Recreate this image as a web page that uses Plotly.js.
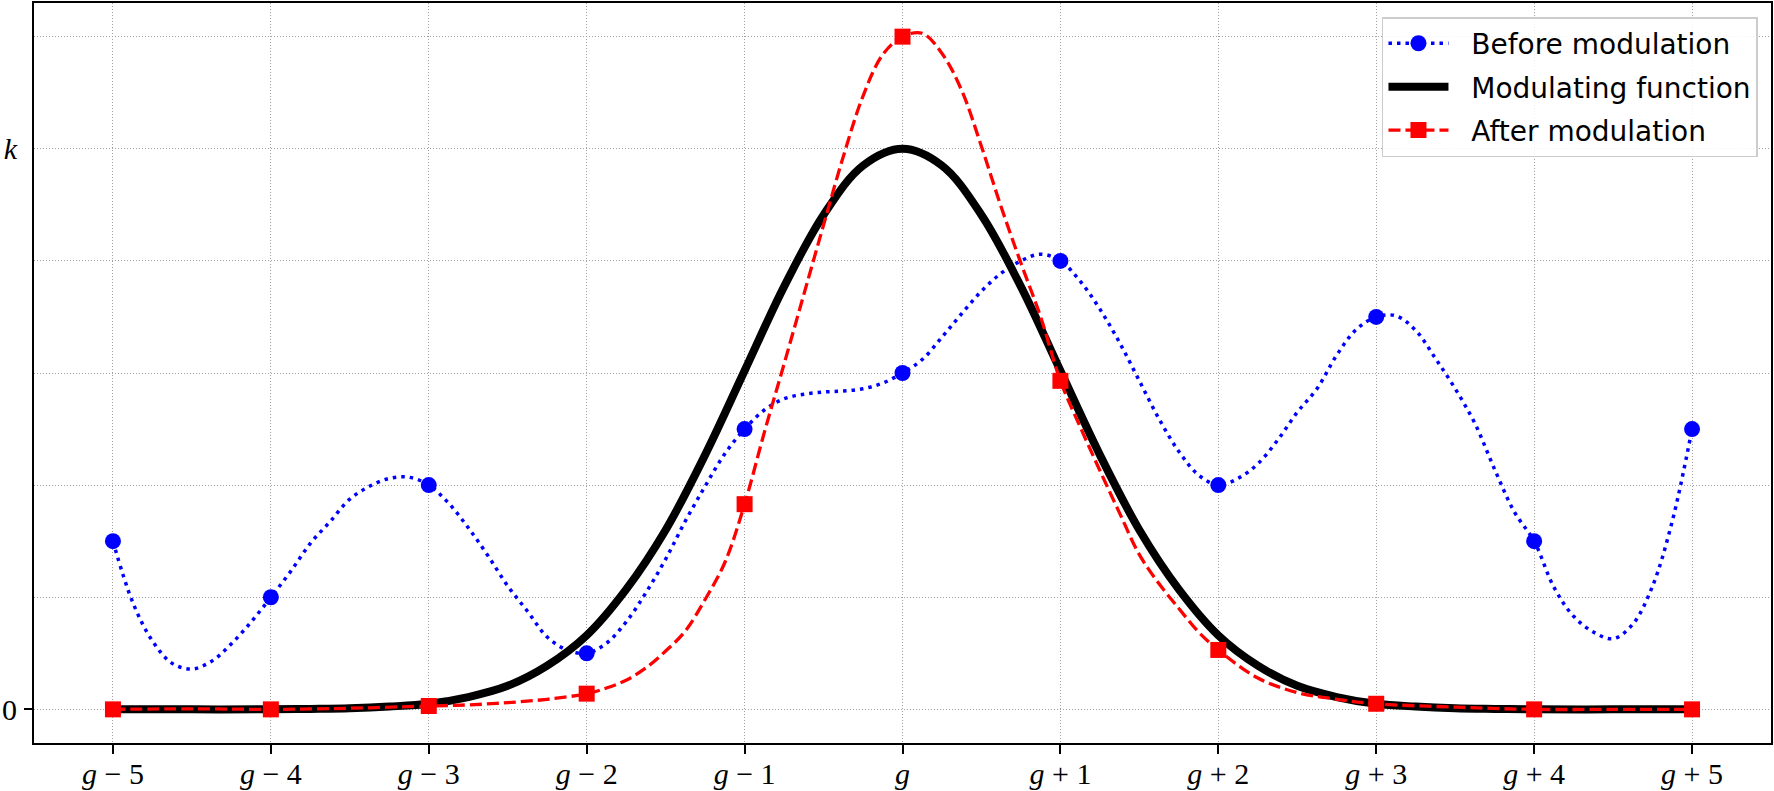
<!DOCTYPE html>
<html>
<head>
<meta charset="utf-8">
<script src="https://cdn.plot.ly/plotly-3.0.1.min.js"></script>
<style>
  html, body { margin: 0; padding: 0; background: #ffffff; }
  #chart { width: 1774px; height: 791px; }
</style>
</head>
<body>
<div id="chart"></div>
<script>
// ---- Data (units: k = 5) ----
const xTicks = [-5, -4, -3, -2, -1, 0, 1, 2, 3, 4, 5];
const xTickLabels = ['<i>g</i> − 5', '<i>g</i> − 4', '<i>g</i> − 3', '<i>g</i> − 2', '<i>g</i> − 1', '<i>g</i>',
                     '<i>g</i> + 1', '<i>g</i> + 2', '<i>g</i> + 3', '<i>g</i> + 4', '<i>g</i> + 5'];
const yTicks = [0, 1, 2, 3, 4, 5, 6];
const yTickLabels = ['0', '', '', '', '', '<i>k</i>', ''];

// sample points (markers)
const beforePoints = [1.5, 1.0, 2.0, 0.5, 2.5, 3.0, 4.0, 2.0, 3.5, 1.5, 2.5];
const afterPoints  = [0.0, 0.0, 0.03, 0.14, 1.83, 6.0, 2.93, 0.53, 0.05, 0.0, 0.0];

// "Before modulation" smooth curve
const beforeCurveX = [-5, -4.875, -4.75, -4.625, -4.5, -4.375, -4.25, -4.125, -4, -3.875, -3.75, -3.625, -3.5, -3.375, -3.25, -3.125,
  -3, -2.875, -2.75, -2.625, -2.5, -2.375, -2.25, -2.125, -2, -1.875, -1.75, -1.625, -1.5, -1.375, -1.25, -1.125,
  -1, -0.875, -0.75, -0.625, -0.5, -0.375, -0.25, -0.125, 0, 0.125, 0.25, 0.375, 0.5, 0.625, 0.75, 0.875,
  1, 1.125, 1.25, 1.375, 1.5, 1.625, 1.75, 1.875, 2, 2.125, 2.25, 2.375, 2.5, 2.625, 2.75, 2.875,
  3, 3.125, 3.25, 3.375, 3.5, 3.625, 3.75, 3.875, 4, 4.125, 4.25, 4.375, 4.5, 4.625, 4.75, 4.875, 5];
const beforeCurveY = [1.5, 0.955, 0.61, 0.41, 0.36, 0.43, 0.585, 0.78, 1.0, 1.23, 1.48, 1.675, 1.875, 1.99, 2.06, 2.07,
  2.0, 1.84, 1.62, 1.37, 1.10, 0.875, 0.645, 0.53, 0.5, 0.59, 0.78, 1.04, 1.34, 1.68, 1.99, 2.28,
  2.5, 2.67, 2.77, 2.81, 2.83, 2.84, 2.86, 2.91, 3.0, 3.12, 3.32, 3.53, 3.73, 3.89, 4.0, 4.06,
  4.0, 3.82, 3.57, 3.27, 2.93, 2.59, 2.30, 2.09, 2.0, 2.06, 2.19, 2.40, 2.65, 2.86, 3.16, 3.39,
  3.5, 3.51, 3.38, 3.13, 2.86, 2.55, 2.14, 1.76, 1.5, 1.09, 0.83, 0.69, 0.63, 0.76, 1.10, 1.68, 2.5];

// "Modulating function" curve
const modCurveX = [-5, -4.5, -4, -3.75, -3.5, -3.25, -3, -2.75, -2.5, -2.25, -2, -1.75, -1.5, -1.25, -1, -0.75, -0.5, -0.25,
  0, 0.25, 0.5, 0.75, 1, 1.25, 1.5, 1.75, 2, 2.25, 2.5, 2.75, 3, 3.25, 3.5, 3.75, 4, 4.5, 5];
const modCurveY = [0, 0, 0, 0.004, 0.01, 0.025, 0.05, 0.11, 0.21, 0.39, 0.66, 1.07, 1.6, 2.27, 3.02, 3.77, 4.41, 4.85,
  5.0, 4.85, 4.41, 3.77, 3.02, 2.27, 1.6, 1.07, 0.66, 0.39, 0.21, 0.11, 0.05, 0.025, 0.01, 0.004, 0, 0, 0];

// "After modulation" smooth curve
const afterCurveX = [-5, -4.5, -4, -3.5, -3, -2.75, -2.5, -2.25, -2, -1.875, -1.75, -1.625, -1.5, -1.375, -1.25, -1.125,
  -1, -0.875, -0.75, -0.625, -0.5, -0.375, -0.25, -0.125, 0, 0.125, 0.25, 0.375, 0.5, 0.625, 0.75, 0.875,
  1, 1.125, 1.25, 1.375, 1.5, 1.625, 1.75, 1.875, 2, 2.25, 2.5, 2.75, 3, 3.5, 4, 4.5, 5];
const afterCurveY = [0, 0.005, 0, 0.01, 0.03, 0.04, 0.06, 0.09, 0.14, 0.19, 0.26, 0.37, 0.52, 0.70, 0.98, 1.31,
  1.83, 2.47, 3.08, 3.70, 4.32, 4.93, 5.47, 5.84, 6.0, 6.03, 5.85, 5.52, 5.02, 4.48, 3.98, 3.50,
  2.93, 2.52, 2.13, 1.75, 1.38, 1.12, 0.90, 0.69, 0.53, 0.28, 0.15, 0.09, 0.05, 0.02, 0, 0, 0];

const seriesNames = ['Before modulation', 'Modulating function', 'After modulation'];

// ---- Styles ----
const BLUE = '#0000ff', RED = '#ff0000', BLACK = '#000000';
const blueDash = '3.5px,5px';
const redDash = '12px,5px';
const NB = '\u00a0\u00a0';

const traces = [
  // Before modulation curve + markers
  { x: beforeCurveX, y: beforeCurveY, mode: 'lines', line: { color: BLUE, width: 3.5, dash: blueDash, shape: 'spline', smoothing: 1 },
    showlegend: false, hoverinfo: 'skip' },
  { x: xTicks, y: beforePoints, mode: 'markers', marker: { color: BLUE, size: 16, symbol: 'circle' },
    showlegend: false, hoverinfo: 'skip' },
  // Modulating function
  { x: modCurveX, y: modCurveY, mode: 'lines', line: { color: BLACK, width: 8, shape: 'spline', smoothing: 1 },
    showlegend: false, hoverinfo: 'skip' },
  // After modulation
  { x: afterCurveX, y: afterCurveY, mode: 'lines', line: { color: RED, width: 3.3, dash: redDash, shape: 'spline', smoothing: 1 },
    showlegend: false, hoverinfo: 'skip' },
  { x: xTicks, y: afterPoints, mode: 'markers', marker: { color: RED, size: 16, symbol: 'square' },
    showlegend: false, hoverinfo: 'skip' },
  // Legend entries
  { x: [null], y: [null], name: NB + seriesNames[0], legendgroup: 'a', mode: 'lines+markers',
    line: { color: BLUE, width: 3.5, dash: blueDash }, marker: { color: BLUE, size: 17, symbol: 'circle' } },
  { x: [null], y: [null], name: NB + seriesNames[1], legendgroup: 'b', mode: 'lines', line: { color: BLACK, width: 8 } },
  { x: [null], y: [null], name: NB + seriesNames[2], legendgroup: 'c', mode: 'lines+markers',
    line: { color: RED, width: 3.3, dash: redDash }, marker: { color: RED, size: 17, symbol: 'square' } },
  // carrier for the secondary y axis (tick mark at 0 only)
  { x: [null], y: [null], yaxis: 'y2', showlegend: false, hoverinfo: 'skip', mode: 'lines' }
];

const tickFont = { family: 'Liberation Serif, DejaVu Serif, serif', size: 30, color: BLACK };
const gridStyle = { showgrid: true, gridcolor: '#a0a0a0', gridwidth: 1, griddash: '1px,2px' };

const layout = {
  width: 1774, height: 791,
  margin: { l: 34, r: 3, t: 3, b: 48, pad: 0 },
  paper_bgcolor: '#ffffff', plot_bgcolor: '#ffffff',
  showlegend: true,
  hovermode: false,
  xaxis: Object.assign({
    range: [-5.5, 5.5], tickmode: 'array', tickvals: xTicks, ticktext: xTickLabels,
    ticks: 'outside', ticklen: 9, tickwidth: 2, tickcolor: BLACK, ticklabelstandoff: -6,
    showline: true, mirror: true, linewidth: 2, linecolor: BLACK, zeroline: false,
    tickfont: tickFont
  }, gridStyle),
  yaxis: Object.assign({
    range: [-0.3, 6.3], tickmode: 'array', tickvals: yTicks, ticktext: yTickLabels,
    ticks: 'outside', ticklen: 9, tickwidth: 2, tickcolor: 'rgba(0,0,0,0)',
    showline: true, mirror: true, linewidth: 2, linecolor: BLACK, zeroline: false,
    tickfont: tickFont
  }, gridStyle),
  yaxis2: {
    overlaying: 'y', side: 'left', anchor: 'x', range: [-0.3, 6.3],
    tickmode: 'array', tickvals: [0], ticktext: [''], showticklabels: false,
    ticks: 'outside', ticklen: 9, tickwidth: 2, tickcolor: BLACK,
    showgrid: false, zeroline: false, showline: false
  },
  legend: {
    x: 0.9925, xanchor: 'right', y: 0.981, yanchor: 'top',
    bgcolor: 'rgba(255,255,255,0.85)', bordercolor: '#cccccc', borderwidth: 1.5,
    font: { family: 'DejaVu Sans, sans-serif', size: 28, color: BLACK },
    itemwidth: 60, traceorder: 'grouped', tracegroupgap: 4
  }
};

Plotly.newPlot('chart', traces, layout, { displayModeBar: false, staticPlot: true });
</script>
</body>
</html>
